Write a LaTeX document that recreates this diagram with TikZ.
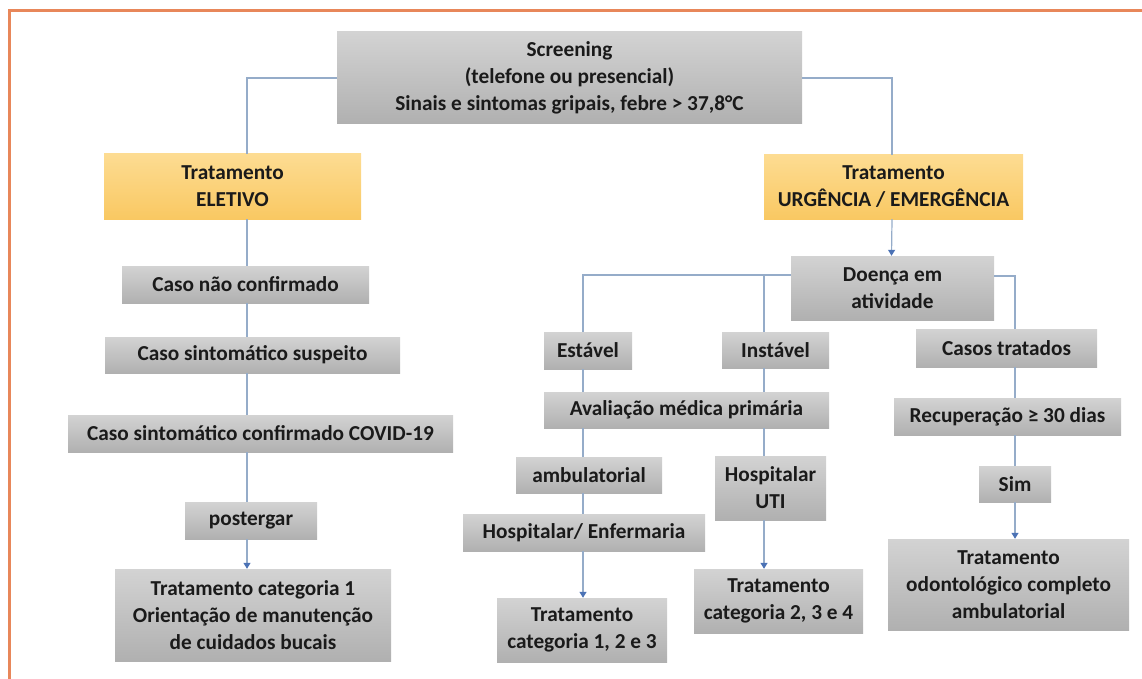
\documentclass[tikz,border=0pt]{standalone}
\usepackage{fontspec}
\setmainfont{Carlito}
\usepackage{xcolor}
\usepackage{tikz}
\usetikzlibrary{arrows.meta}
\definecolor{boxtop}{HTML}{D3D3D3}
\definecolor{boxbot}{HTML}{B0B0B0}
\definecolor{goldtop}{HTML}{FDDC92}
\definecolor{goldbot}{HTML}{F9C862}
\definecolor{linkblue}{HTML}{95ACC9}
\definecolor{tipblue}{HTML}{4B72B5}
\definecolor{textdark}{HTML}{1A1A1A}
\definecolor{frameorange}{HTML}{E8875A}
\tikzset{box/.style={rectangle,top color=boxtop,bottom color=boxbot,draw=none,inner sep=0pt,
  align=center,text=textdark,font=\bfseries\fontsize{21.3}{27}\selectfont},
hl/.style={box,top color=goldtop,bottom color=goldbot},
link/.style={linkblue,line width=1.2pt},
arr/.style={link,-{Triangle[length=6pt,width=7pt,color=tipblue]}},
frame/.style={frameorange,line width=3pt}}

\begin{document}
\begin{tikzpicture}[x=1pt,y=-1pt]
\useasboundingbox (0,0) rectangle (1142,679);
\draw[frame] (1142,11)--(9,11)--(9,679);
% top and the two branches
\node[box,minimum width=465,minimum height=92] (scr) at (569.5,78) {Screening\\(telefone ou presencial)\\Sinais e sintomas gripais, febre > 37,8°C};
\node[hl,minimum width=257,minimum height=65] (elet) at (232.5,186.5) {Tratamento\\ELETIVO};
\node[hl,minimum width=259,minimum height=64] (urg) at (893.5,187) {Tratamento\\URGÊNCIA / EMERGÊNCIA};
% elective column
\node[box,minimum width=247,minimum height=37] (cnc) at (245.5,284.5) {Caso não confirmado};
\node[box,minimum width=295,minimum height=36] (css) at (252.5,355) {Caso sintomático suspeito};
\node[box,minimum width=385,minimum height=37] (csc) at (260.5,433.5) {Caso sintomático confirmado COVID-19};
\node[box,minimum width=132,minimum height=37] (pos) at (251,520.5) {postergar};
\node[box,minimum width=276,minimum height=92] (t1) at (253,615) {Tratamento categoria 1\\Orientação de manutenção\\de cuidados bucais};
% urgency column
\node[box,minimum width=203,minimum height=64] (doe) at (892.5,288) {Doença em\\atividade};
\node[box,minimum width=88,minimum height=37] (est) at (588,350.5) {Estável};
\node[box,minimum width=107,minimum height=36] (ins) at (775.5,350) {Instável};
\node[box,minimum width=181,minimum height=38] (cas) at (1006.5,348) {Casos tratados};
\node[box,minimum width=285,minimum height=36] (ava) at (686.5,410) {Avaliação médica primária};
\node[box,minimum width=146,minimum height=36] (amb) at (589,475) {ambulatorial};
\node[box,minimum width=111,minimum height=64] (uti) at (770.5,488) {Hospitalar\\UTI};
\node[box,minimum width=242,minimum height=37] (enf) at (584,532.5) {Hospitalar/ Enfermaria};
\node[box,minimum width=170,minimum height=64] (t123) at (582,630) {Tratamento\\categoria 1, 2 e 3};
\node[box,minimum width=169,minimum height=64] (t234) at (778.5,601) {Tratamento\\categoria 2, 3 e 4};
\node[box,minimum width=227,minimum height=37] (rec) at (1007.5,416.5) {Recuperação ≥ 30 dias};
\node[box,minimum width=72,minimum height=36] (sim) at (1015,484) {Sim};
\node[box,minimum width=241,minimum height=91] (todo) at (1008.5,584.5) {Tratamento\\odontológico completo\\ambulatorial};
% columns of the connectors
\coordinate (lx) at (247,0);
\coordinate (colA) at (583,0);
\coordinate (colB) at (764,0);
\coordinate (colC) at (1015,0);
\coordinate (dl) at ([yshift=13pt]doe.west);
\coordinate (dr) at ([yshift=12pt]doe.east);
% connectors
\draw[link] (scr.west) -| (lx |- elet.north);
\draw[link] (scr.east) -| ([xshift=-1.5pt]urg.north);
\foreach \a/\b in {elet/cnc,cnc/css,css/csc,csc/pos}
  \draw[link] (lx |- \a.south) -- (lx |- \b.north);
\draw[arr] (lx |- pos.south) -- (lx |- t1.north);
\draw[arr] ([xshift=-1.5pt]urg.south) -- ([xshift=-1pt]doe.north);
\draw[link] (dl) -| (colA |- est.north);
\draw[link] (colB |- dl) -- (colB |- ins.north);
\draw[link] (dr) -| (colC |- cas.north);
\foreach \a/\b in {est/ava,ava/amb,amb/enf}
  \draw[link] (colA |- \a.south) -- (colA |- \b.north);
\foreach \a/\b in {ins/ava,ava/uti}
  \draw[link] (colB |- \a.south) -- (colB |- \b.north);
\foreach \a/\b in {cas/rec,rec/sim}
  \draw[link] (colC |- \a.south) -- (colC |- \b.north);
\draw[arr] (colA |- enf.south) -- (colA |- t123.north);
\draw[arr] (colB |- uti.south) -- (colB |- t234.north);
\draw[arr] (colC |- sim.south) -- (colC |- todo.north);
\end{tikzpicture}
\end{document}
